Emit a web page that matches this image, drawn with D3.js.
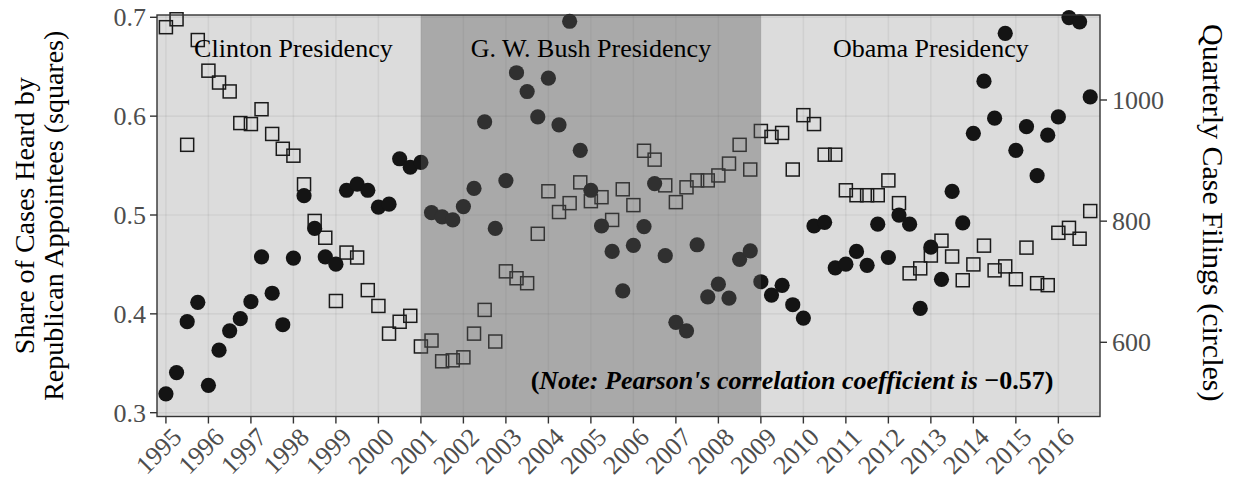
<!DOCTYPE html>
<html lang="en">
<head>
  <meta charset="UTF-8">
  <title>Republican Appointees vs Quarterly Case Filings</title>
  <script src="https://d3js.org/d3.v7.min.js"></script>
  <style>
    body { margin: 0; background: #fff; }
    svg { display: block; font-family: "Liberation Serif", "Times New Roman", serif; }
  </style>
</head>
<body>
  <div id="chart"></div>
  <script>
    // quarterly series, first quarter of 1995 onwards
    const startYear = 1995;
    const shareSquares = [
      0.690, 0.698, 0.571, 0.677, 0.646, 0.634, 0.625, 0.593,
      0.592, 0.607, 0.582, 0.567, 0.560, 0.531, 0.494, 0.477,
      0.413, 0.462, 0.457, 0.424, 0.408, 0.380, 0.392, 0.398,
      0.367, 0.373, 0.352, 0.353, 0.356, 0.380, 0.404, 0.372,
      0.443, 0.436, 0.431, 0.481, 0.524, 0.503, 0.512, 0.533,
      0.514, 0.518, 0.495, 0.526, 0.510, 0.565, 0.556, 0.530,
      0.513, 0.528, 0.535, 0.535, 0.540, 0.552, 0.571, 0.546,
      0.585, 0.579, 0.583, 0.546, 0.601, 0.592, 0.561, 0.561,
      0.525, 0.520, 0.520, 0.520, 0.535, 0.512, 0.441, 0.446,
      0.459, 0.474, 0.458, 0.434, 0.450, 0.469, 0.444, 0.448,
      0.435, 0.467, 0.431, 0.429, 0.482, 0.487, 0.476, 0.504
    ];
    const filingsCircles = [
      515, 550, 634, 666, 529, 587, 619, 639,
      667, 741, 681, 629, 739, 842, 788, 741,
      729, 851, 861, 851, 823, 828, 903, 889,
      897, 814, 807, 802, 824, 854, 964, 788,
      867, 1045, 1014, 972, 1036, 959, 1130, 917,
      851, 792, 750, 685, 760, 791, 862, 743,
      633, 619, 761, 675, 696, 673, 737, 751,
      700, 678, 694, 662, 640, 792, 798, 723,
      729, 750, 727, 795, 740, 810, 795, 656,
      757, 704, 849, 797, 945, 1031, 970, 1110,
      917, 956, 875, 942, 972, 1136, 1129, 1005
    ];
    const yearTicks = d3.range(1995, 2017);
    const shareTicks = [0.3, 0.4, 0.5, 0.6, 0.7];
    const filingTicks = [600, 800, 1000];
    const presidencies = [
      { name: 'Clinton Presidency', end: 2001, labelYear: 1998, dark: false },
      { name: 'G. W. Bush Presidency', start: 2001, end: 2009, labelYear: 2005, dark: true },
      { name: 'Obama Presidency', start: 2009, labelYear: 2013, dark: false }
    ];
    const correlation = '\u22120.57';

    const W = 1235, H = 481;
    const panel = { left: 157, right: 1100, top: 15, bottom: 416.5 };

    const svg = d3.select('#chart').append('svg')
      .attr('width', W).attr('height', H);

    const x = d3.scaleLinear()
      .domain([1994.79, 2016.98])
      .range([panel.left, panel.right]);
    const yShare = d3.scaleLinear()
      .domain([0.3, 0.7])
      .range([412.7, 17.3]);
    const yFilings = d3.scaleLinear()
      .domain([600, 1000])
      .range([342.3, 100]);

    const quarters = shareSquares.map((d, i) => ({
      t: startYear + i / 4,
      share: d,
      filings: filingsCircles[i]
    }));

    // panel background + Bush shading
    svg.append('rect')
      .attr('x', panel.left).attr('y', panel.top)
      .attr('width', panel.right - panel.left).attr('height', panel.bottom - panel.top)
      .attr('fill', '#dcdcdc');
    presidencies.filter(p => p.dark).forEach(p => {
      svg.append('rect')
        .attr('x', x(p.start)).attr('y', panel.top)
        .attr('width', x(p.end) - x(p.start)).attr('height', panel.bottom - panel.top)
        .attr('fill', '#9e9e9e');
    });

    // grid
    const grid = svg.append('g').attr('stroke', 'rgba(0,0,0,0.05)').attr('stroke-width', 1.6);
    grid.selectAll('line.v').data(yearTicks).join('line')
      .attr('x1', d => x(d)).attr('x2', d => x(d))
      .attr('y1', panel.top).attr('y2', panel.bottom);
    grid.selectAll('line.h').data(shareTicks).join('line')
      .attr('x1', panel.left).attr('x2', panel.right)
      .attr('y1', d => yShare(d)).attr('y2', d => yShare(d));

    // points
    const sq = 13;
    svg.append('g').selectAll('rect').data(quarters).join('rect')
      .attr('x', d => x(d.t) - sq / 2)
      .attr('y', d => yShare(d.share) - sq / 2)
      .attr('width', sq).attr('height', sq)
      .attr('fill', 'none').attr('stroke', '#1a1a1a').attr('stroke-width', 1.5);
    svg.append('g').selectAll('circle').data(quarters).join('circle')
      .attr('cx', d => x(d.t))
      .attr('cy', d => yFilings(d.filings))
      .attr('r', 7.6)
      .attr('fill', '#141414');

    // lighten Bush-era marks a touch
    presidencies.filter(p => p.dark).forEach(p => {
      svg.append('rect')
        .attr('x', x(p.start)).attr('y', panel.top)
        .attr('width', x(p.end) - x(p.start)).attr('height', panel.bottom - panel.top)
        .attr('fill', '#fff').attr('opacity', 0.12);
    });

    // presidency labels
    svg.append('g').selectAll('text').data(presidencies).join('text')
      .attr('x', d => x(d.labelYear))
      .attr('y', 57)
      .attr('text-anchor', 'middle')
      .style('font-size', '26px')
      .attr('fill', '#000')
      .text(d => d.name);

    // correlation note
    const note = svg.append('text')
      .attr('x', 792).attr('y', 389)
      .attr('text-anchor', 'middle')
      .style('font-size', '26px')
      .style('font-weight', 'bold')
      .attr('fill', '#000');
    note.append('tspan').text('(');
    note.append('tspan').style('font-style', 'italic').text("Note: Pearson's correlation coefficient is ");
    note.append('tspan').text(correlation + ')');

    // panel border
    svg.append('rect')
      .attr('x', panel.left).attr('y', panel.top)
      .attr('width', panel.right - panel.left).attr('height', panel.bottom - panel.top)
      .attr('fill', 'none').attr('stroke', '#333').attr('stroke-width', 1.4);

    // left axis
    const axisCol = '#333', labCol = '#4d4d4d';
    const left = svg.append('g');
    left.selectAll('line').data(shareTicks).join('line')
      .attr('x1', panel.left - 7).attr('x2', panel.left)
      .attr('y1', d => yShare(d)).attr('y2', d => yShare(d))
      .attr('stroke', axisCol).attr('stroke-width', 1.4);
    left.selectAll('text').data(shareTicks).join('text')
      .attr('x', panel.left - 11).attr('y', d => yShare(d))
      .attr('dy', '0.35em')
      .attr('text-anchor', 'end')
      .attr('fill', labCol)
      .style('font-size', '26px')
      .text(d => d.toFixed(1));

    // right axis
    const right = svg.append('g');
    right.selectAll('line').data(filingTicks).join('line')
      .attr('x1', panel.right).attr('x2', panel.right + 7)
      .attr('y1', d => yFilings(d)).attr('y2', d => yFilings(d))
      .attr('stroke', axisCol).attr('stroke-width', 1.4);
    right.selectAll('text').data(filingTicks).join('text')
      .attr('x', panel.right + 12).attr('y', d => yFilings(d))
      .attr('dy', '0.35em')
      .attr('fill', labCol)
      .style('font-size', '26px')
      .text(d => d);

    // bottom axis
    const bottom = svg.append('g');
    bottom.selectAll('line').data(yearTicks).join('line')
      .attr('x1', d => x(d)).attr('x2', d => x(d))
      .attr('y1', panel.bottom).attr('y2', panel.bottom + 7)
      .attr('stroke', axisCol).attr('stroke-width', 1.4);
    bottom.selectAll('text').data(yearTicks).join('text')
      .attr('transform', d => `translate(${x(d) + 4},${panel.bottom + 9}) rotate(-45)`)
      .attr('dy', '0.72em')
      .attr('text-anchor', 'end')
      .attr('fill', labCol)
      .style('font-size', '26px')
      .text(d => d);

    // axis titles
    const yt = (panel.top + panel.bottom) / 2;
    const lt = svg.append('text')
      .attr('transform', `translate(0,${yt}) rotate(-90)`)
      .attr('text-anchor', 'middle')
      .style('font-size', '28px')
      .attr('fill', '#000');
    lt.append('tspan').attr('x', 0).attr('y', 34).text('Share of Cases Heard by');
    lt.append('tspan').attr('x', 0).attr('y', 63).text('Republican Appointees (squares)');

    svg.append('text')
      .attr('transform', `translate(1203,${yt - 3}) rotate(90)`)
      .attr('text-anchor', 'middle')
      .style('font-size', '30px')
      .attr('fill', '#000')
      .text('Quarterly Case Filings (circles)');
  </script>
</body>
</html>
